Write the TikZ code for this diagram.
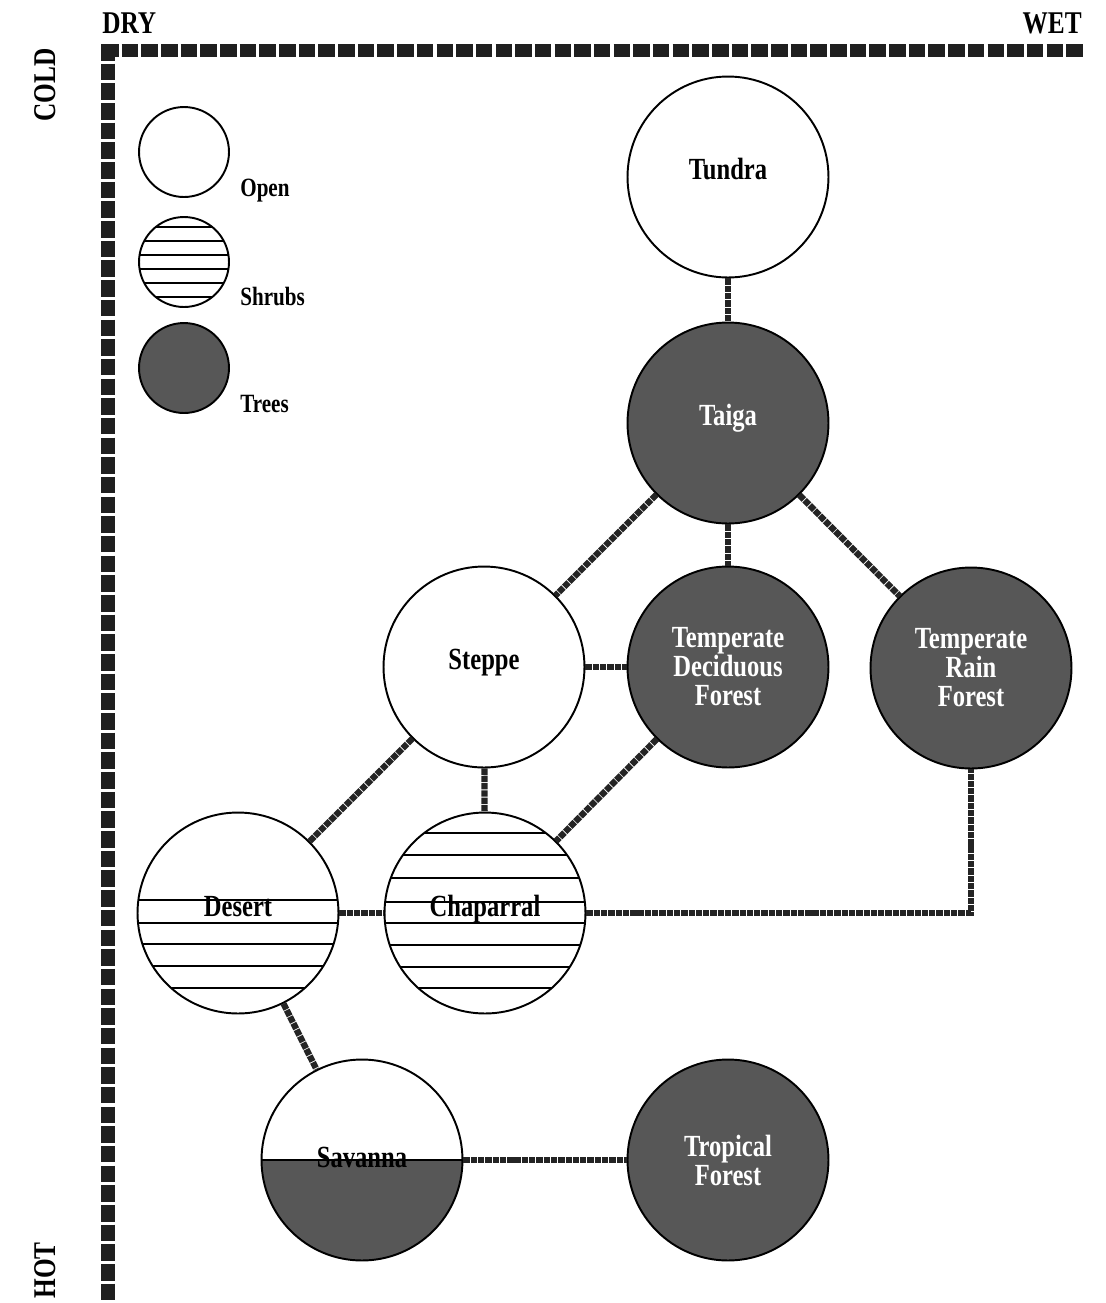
\documentclass[tikz,border=0pt]{standalone}
\usepackage{fontspec}
\setmainfont{Liberation Serif}
\newfontfamily\biomefont{Liberation Serif}[FakeStretch=0.8]
\usepackage{xcolor}
\usepackage{tikz}
\usetikzlibrary{calc}

\definecolor{treegray}{gray}{0.34}
\definecolor{linkgray}{gray}{0.14}

\begin{document}
\begin{tikzpicture}[x=0.02cm, y=-0.02cm,
    biome/.style={circle, draw, line width=1.1pt, minimum size=4.02cm, inner sep=0pt, align=center,
      font=\biomefont\bfseries\fontsize{17.5}{16.5}\selectfont},
    oneline/.style={text height=8pt, text depth=4.6pt},
    open/.style={fill=white},
    trees/.style={fill=treegray, text=white},
    shrubs/.style={path picture={\foreach \dy in {#1}
        \draw[line width=1pt] ([xshift=-3cm, yshift=\dy cm]path picture bounding box.center) -- ++(6cm,0);}},
    halftrees/.style={path picture={
        \fill[treegray] (path picture bounding box.west) rectangle (path picture bounding box.south east);
        \draw[line width=1.1pt] (path picture bounding box.west) -- (path picture bounding box.east);}},
    key/.style={circle, draw, line width=1.1pt, minimum size=1.8cm, inner sep=0pt},
    keytext/.style={inner sep=0pt, font=\biomefont\bfseries\fontsize{15}{15}\selectfont},
    axistext/.style={inner sep=0pt, font=\biomefont\bfseries\fontsize{18}{18}\selectfont},
    link/.style={draw=linkgray, line width=3.6pt, dash pattern=on 3.6pt off 0.55pt},
    axis/.style={draw=black!88, line width=7.4pt, dash pattern=on 9.4pt off 1.8pt}]
  \useasboundingbox (0,0) rectangle (1106,1303);

  % Axes
  \draw[axis] (108,44) -- (108,1310);
  \draw[axis] (102,50) -- (1085,50);
  \node[axistext, anchor=base west] (dry) at (102,33) {DRY};
  \node[axistext, anchor=base east] (wet) at (1082,33) {WET};
  \node[axistext, anchor=base west, rotate=90] (cold) at (55,122) {COLD};
  \node[axistext, anchor=base east, rotate=90] (hot) at (55,1242) {HOT};

  % Key
  \node[key, fill=white] (kopen) at (184,152) {};
  \node[key, shrubs={0.7,0.42,0.14,-0.14,-0.42,-0.7}] (kshrubs) at (184,262) {};
  \node[key, fill=treegray] (ktrees) at (184,368) {};
  \node[keytext, anchor=base west] at (240,196) {Open};
  \node[keytext, anchor=base west] at (240,305) {Shrubs};
  \node[keytext, anchor=base west] at (240,412) {Trees};

  % Biomes
  \node[biome, open, oneline] (tundra) at (728,177) {Tundra};
  \node[biome, trees, oneline] (taiga) at (728,423) {Taiga};
  \node[biome, open, oneline] (steppe) at (484,667) {Steppe};
  \node[biome, trees] (tdf) at (728,667) {Temperate\\Deciduous\\Forest};
  \node[biome, trees] (trf) at (971,668) {Temperate\\Rain\\Forest};
  \node[biome, oneline, shrubs={0.26,-0.2,-0.62,-1.06,-1.5}] (desert) at (238,913) {Desert};
  \node[biome, oneline, shrubs={1.6,1.16,0.7,0.22,-0.2,-0.64,-1.08,-1.5}] (chap) at (485,913) {Chaparral};
  \node[biome, halftrees, label={[anchor=base, yshift=1.2pt, font=\biomefont\bfseries\fontsize{17.5}{18}\selectfont]center:Savanna}] (savanna) at (362,1160) {};
  \node[biome, trees] (tropical) at (728,1160) {Tropical\\Forest};

  % Links
  \draw[link] (tundra) -- (taiga);
  \draw[link] (taiga) -- (steppe);
  \draw[link] (taiga) -- (tdf);
  \draw[link] (taiga) -- (trf);
  \draw[link] (steppe) -- (tdf);
  \draw[link] (steppe) -- (desert);
  \draw[link] (steppe) -- (chap);
  \draw[link] (tdf) -- (chap);
  \draw[link] (desert) -- (chap);
  \draw[link] (chap.east) -| (trf.south);
  \draw[link] (desert) -- (savanna);
  \draw[link] (savanna) -- (tropical);
\end{tikzpicture}
\end{document}
